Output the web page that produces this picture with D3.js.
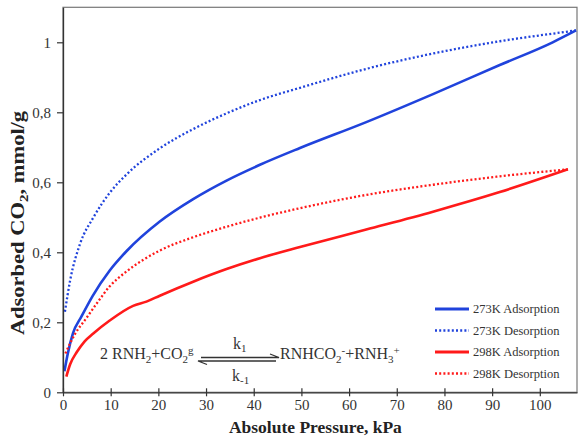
<!DOCTYPE html>
<html>
<head>
<meta charset="utf-8">
<script src="https://cdn.jsdelivr.net/npm/d3@7"></script>
<style>
	body { margin: 0; background: #fff; }
	svg { display: block; font-family: 'Liberation Serif', 'Times New Roman', serif; }
</style>
</head>
<body>
<svg id="chart" width="578" height="441"></svg>
<script>
// data (kPa, mmol/g)
let ads273X = [0.3, 1.0, 2.1, 3.85, 6.2, 9.8, 13.3, 20.3, 27.3, 34.3, 41.3, 49.7, 63.6, 77.6, 91.6, 102.7, 107.6]
let ads273Y = [0.06, 0.11, 0.169, 0.216, 0.275, 0.348, 0.403, 0.488, 0.552, 0.605, 0.65, 0.698, 0.772, 0.852, 0.935, 1.0, 1.034]

let des273X = [0.4, 1.5, 3.6, 6.4, 9.8, 13.3, 20.3, 27.3, 34.3, 41.3, 49.7, 63.6, 77.6, 91.6, 105.5, 107.6]
let des273Y = [0.23, 0.32, 0.425, 0.5, 0.57, 0.622, 0.697, 0.752, 0.797, 0.835, 0.87, 0.924, 0.968, 1.003, 1.03, 1.034]

let ads298X = [0.7, 1.5, 2.9, 4.5, 6.35, 9.8, 14.7, 17.5, 20.3, 27.3, 34.3, 41.3, 49.7, 63.6, 77.6, 91.6, 105.9]
let ads298Y = [0.045, 0.08, 0.115, 0.145, 0.168, 0.205, 0.247, 0.259, 0.276, 0.316, 0.352, 0.383, 0.415, 0.465, 0.516, 0.572, 0.637]

let des298X = [0.5, 2.45, 4.9, 7.3, 9.8, 13.3, 20.3, 27.3, 34.3, 41.3, 49.7, 63.6, 77.6, 91.6, 105.9]
let des298Y = [0.111, 0.165, 0.212, 0.258, 0.303, 0.345, 0.405, 0.443, 0.473, 0.499, 0.526, 0.564, 0.593, 0.617, 0.637]

let seriesNames = ['273K Adsorption', '273K Desorption', '298K Adsorption', '298K Desorption']
let xTicks = [0, 10, 20, 30, 40, 50, 60, 70, 80, 90, 100]
let yTicks = [0, 0.2, 0.4, 0.6, 0.8, 1]

let blue = '#2043dc'
let red = '#ff1a1a'

let series = [
	{ name: seriesNames[0], xs: ads273X, ys: ads273Y, color: blue, dash: null },
	{ name: seriesNames[1], xs: des273X, ys: des273Y, color: blue, dash: '2,2.2' },
	{ name: seriesNames[2], xs: ads298X, ys: ads298Y, color: red, dash: null },
	{ name: seriesNames[3], xs: des298X, ys: des298Y, color: red, dash: '2,2.2' }
]

let plotL = 63, plotR = 577, plotT = 7.3, plotB = 392.3

let x = d3.scaleLinear().domain([0, 107.8]).range([plotL, plotR])
let y = d3.scaleLinear().domain([0, 1.1]).range([plotB, plotT])

let svg = d3.select('#chart')

// frame
svg.append('rect')
	.attr('x', plotL).attr('y', plotT)
	.attr('width', plotR - plotL).attr('height', plotB - plotT)
	.attr('fill', 'none')
	.attr('stroke', '#777')
	.attr('stroke-width', 1.2)

// curves
let line = d3.line()
	.x(d => x(d[0]))
	.y(d => y(d[1]))
	.curve(d3.curveMonotoneX)

svg.append('g')
	.selectAll('path')
	.data(series)
	.join('path')
	.attr('d', d => line(d.xs.map((v, i) => [v, d.ys[i]])))
	.attr('fill', 'none')
	.attr('stroke', d => d.color)
	.attr('stroke-width', d => d.dash ? 2.3 : 2.6)
	.attr('stroke-dasharray', d => d.dash)

// axes
let xAxis = svg.append('g')
	.attr('transform', `translate(0,${plotB})`)
	.call(d3.axisBottom(x).tickValues(xTicks).tickSizeInner(4).tickSizeOuter(0).tickPadding(3))
xAxis.selectAll('.tick line').attr('y1', -4)

let yAxis = svg.append('g')
	.attr('transform', `translate(${plotL},0)`)
	.call(d3.axisLeft(y).tickValues(yTicks).tickSizeInner(6).tickSizeOuter(0).tickPadding(6)
		.tickFormat(d => String(d).replace('.', ',')))

svg.selectAll('.domain').attr('stroke', '#333').attr('stroke-width', 1.3)
svg.selectAll('.tick line').attr('stroke', '#333').attr('stroke-width', 1.2)
svg.selectAll('.tick text')
	.attr('fill', '#333')
	.style('font-family', "'Liberation Serif', serif")
	.style('font-size', '15px')

// axis titles
svg.append('text')
	.attr('x', (plotL + x(100)) / 2 + 14)
	.attr('y', 433)
	.attr('text-anchor', 'middle')
	.attr('font-weight', 'bold')
	.attr('font-size', 17.5)
	.attr('fill', '#222')
	.text('Absolute Pressure, kPa')

let yTitle = svg.append('text')
	.attr('transform', 'translate(24,223) rotate(-90) scale(1.25,1)')
	.attr('text-anchor', 'middle')
	.attr('font-weight', 'bold')
	.attr('font-size', 18)
	.attr('fill', '#222')
yTitle.append('tspan').text('Adsorbed CO')
yTitle.append('tspan').attr('font-size', 12).attr('dy', 4).text('2')
yTitle.append('tspan').attr('dy', -4).text(', mmol/g')

// legend
let legend = svg.append('g')
	.selectAll('g')
	.data(series)
	.join('g')
	.attr('transform', (d, i) => `translate(435,${309 + i * 21.5})`)

legend.append('line')
	.attr('x1', 0).attr('x2', 34)
	.attr('stroke', d => d.color)
	.attr('stroke-width', d => d.dash ? 2.3 : 2.8)
	.attr('stroke-dasharray', d => d.dash)

legend.append('text')
	.attr('x', 38)
	.attr('dy', '0.35em')
	.attr('font-size', 12.5)
	.attr('fill', '#333')
	.text(d => d.name)

// reaction equation
let eq = svg.append('g').attr('fill', '#333').attr('font-size', 16)

let lhs = eq.append('text').attr('x', 100).attr('y', 359)
lhs.append('tspan').text('2 RNH')
lhs.append('tspan').attr('font-size', 11).attr('dy', 4).text('2')
lhs.append('tspan').attr('dy', -4).text('+CO')
lhs.append('tspan').attr('font-size', 11).attr('dy', 4).text('2')
lhs.append('tspan').attr('font-size', 11).attr('dy', -9).text('g')

let rhs = eq.append('text').attr('x', 280).attr('y', 359)
rhs.append('tspan').text('RNHCO')
rhs.append('tspan').attr('font-size', 11).attr('dy', 4).text('2')
rhs.append('tspan').attr('font-size', 11).attr('dy', -9).text('-')
rhs.append('tspan').attr('dy', 5).text('+RNH')
rhs.append('tspan').attr('font-size', 11).attr('dy', 4).text('3')
rhs.append('tspan').attr('font-size', 11).attr('dy', -9).text('+')

let k1 = eq.append('text').attr('x', 233).attr('y', 349)
k1.append('tspan').text('k')
k1.append('tspan').attr('font-size', 11).attr('dy', 3).text('1')

let km1 = eq.append('text').attr('x', 232).attr('y', 381)
km1.append('tspan').text('k')
km1.append('tspan').attr('font-size', 11).attr('dy', 3).text('-1')

let arrows = svg.append('g').attr('stroke', '#333').attr('stroke-width', 1.3).attr('fill', 'none')
arrows.append('path').attr('d', 'M201,357.5 L279,357.5 L270,354')
arrows.append('path').attr('d', 'M276,361 L198,361 L207,364.5')
</script>
</body>
</html>
